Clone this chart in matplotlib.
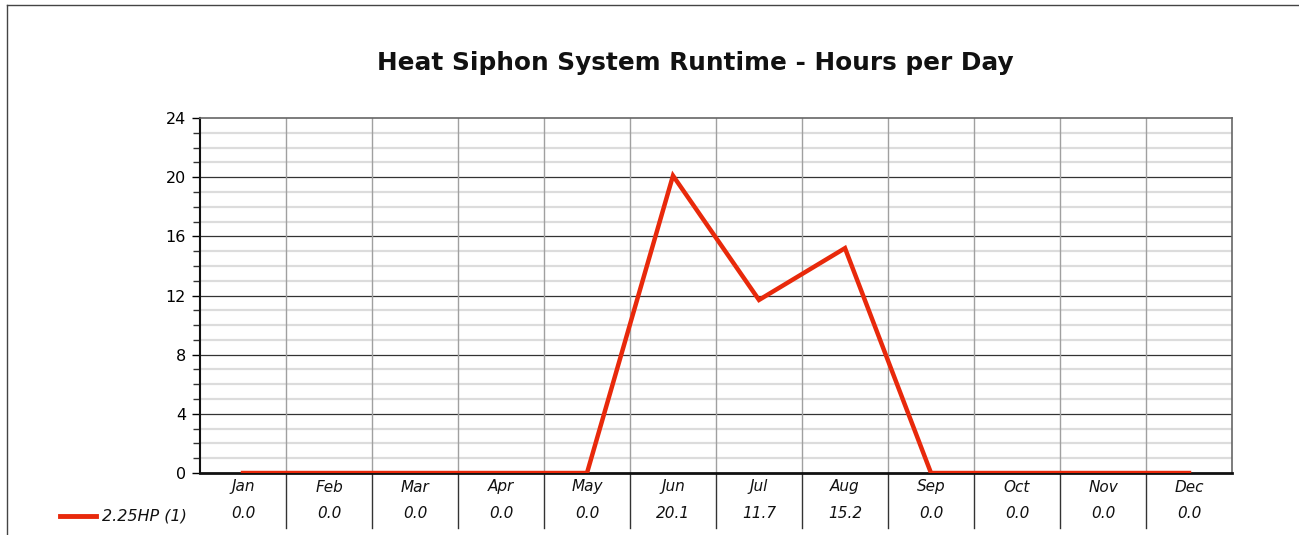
import matplotlib
matplotlib.use("Agg")
import matplotlib.pyplot as plt
from matplotlib.lines import Line2D
import numpy as np

months = ["Jan", "Feb", "Mar", "Apr", "May", "Jun", "Jul", "Aug", "Sep", "Oct", "Nov", "Dec"]
hours = [0.0, 0.0, 0.0, 0.0, 0.0, 20.1, 11.7, 15.2, 0.0, 0.0, 0.0, 0.0]
series_name = "2.25HP (1)"
title = "Heat Siphon System Runtime - Hours per Day"

W, H = 1299, 535
fig = plt.figure(figsize=(W / 100, H / 100), dpi=100)
fig.patch.set_facecolor("white")

# outer frame
fig.add_artist(Line2D([7 / W, 7 / W], [0, 1 - 5 / H], transform=fig.transFigure, color="#444444", lw=1))
fig.add_artist(Line2D([7 / W, 1], [1 - 5 / H, 1 - 5 / H], transform=fig.transFigure, color="#444444", lw=1))

left, right, top, bottom = 200, 1232, 118, 473
ax = fig.add_axes([left / W, 1 - bottom / H, (right - left) / W, (bottom - top) / H])

x = np.arange(len(months))
ax.set_xlim(-0.5, len(months) - 0.5)
ax.set_ylim(0, 24)

# grid
for v in np.arange(0, 25, 1):
    if v % 4 != 0:
        ax.axhline(v, color="#dcdcdc", lw=1.6, zorder=1)
for v in np.arange(4, 24, 4):
    ax.axhline(v, color="#333333", lw=0.9, zorder=2)

# vertical separators
xf = ax.get_xaxis_transform()
table_depth = (528 - bottom) / (bottom - top)
for b in np.arange(0.5, len(months) - 0.5, 1):
    ax.plot([b, b], [0, 1], color="#a0a0a0", lw=1, transform=xf, zorder=2)
    ax.plot([b, b], [-table_depth, 0], color="#333333", lw=1, transform=xf, clip_on=False, zorder=2)

ax.plot(x, hours, color="#E8290B", lw=3.2, zorder=5, solid_joinstyle="miter")

ax.set_yticks(np.arange(0, 25, 4))
ax.set_yticks(np.arange(0, 25, 1), minor=True)
ax.tick_params(axis="y", which="major", length=6, width=1, labelsize=11.5, colors="#000000", pad=4)
ax.tick_params(axis="y", which="minor", length=5, width=1, color="#333333")
ax.set_xticks([])

for s in ["top", "right"]:
    ax.spines[s].set_color("#666666")
    ax.spines[s].set_linewidth(1.2)
ax.spines["left"].set_color("#111111")
ax.spines["left"].set_linewidth(1.5)
ax.spines["bottom"].set_color("#111111")
ax.spines["bottom"].set_linewidth(2)

# table labels
for i, (m, v) in enumerate(zip(months, hours)):
    ax.text(i, (bottom - 487) / (bottom - top), m, transform=xf, ha="center", va="center",
            fontsize=11, style="italic", color="#111111")
    ax.text(i, (bottom - 514) / (bottom - top), f"{v:.1f}", transform=xf, ha="center", va="center",
            fontsize=11, style="italic", color="#111111")

# legend entry
fig.add_artist(Line2D([60 / W, 96 / W], [1 - 516 / H, 1 - 516 / H], transform=fig.transFigure,
                      color="#E8290B", lw=3.5))
fig.text(102 / W, 1 - 516 / H, series_name, ha="left", va="center", fontsize=11.5,
         style="italic", color="#111111")

fig.text(695 / W, 1 - 63 / H, title, ha="center", va="center", fontsize=17.8,
         fontweight="bold", color="#111111")

fig.savefig("out.png", dpi=100)
